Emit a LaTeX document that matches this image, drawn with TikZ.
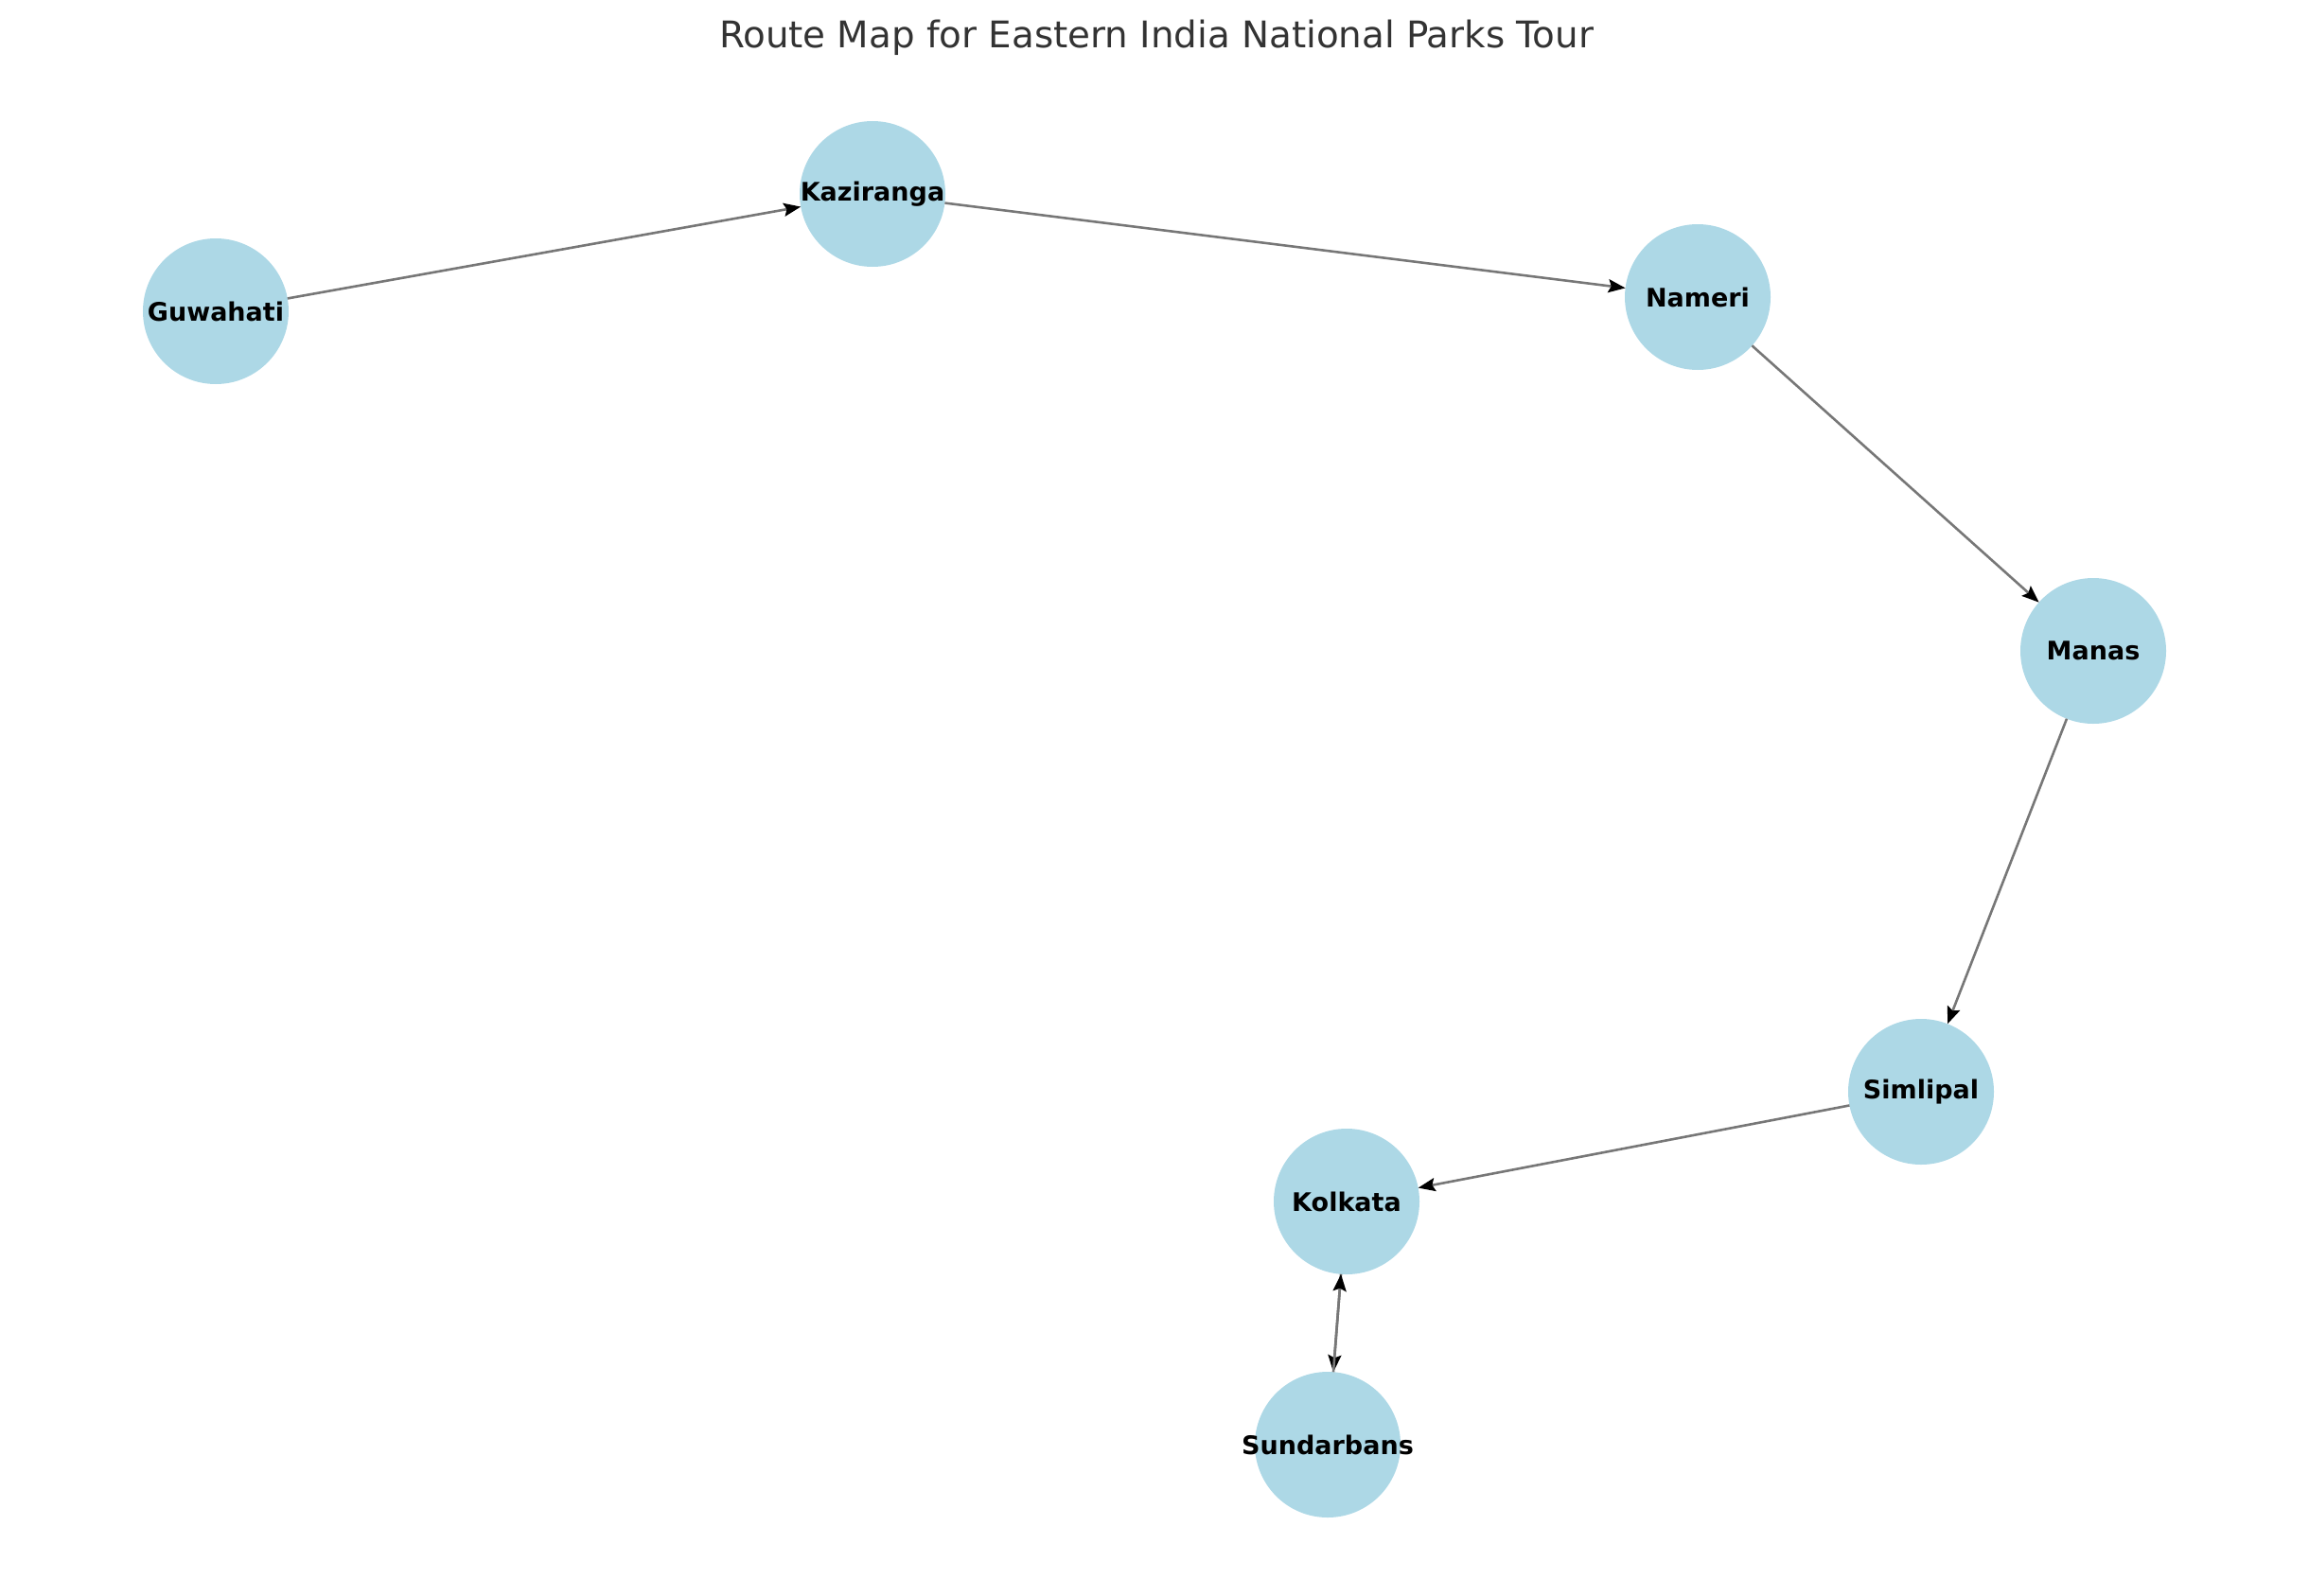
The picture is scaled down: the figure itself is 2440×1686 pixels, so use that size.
\documentclass[tikz,border=0pt]{standalone}
\usepackage{fontspec}
\setmainfont{DejaVu Sans}
\usepackage{tikz}
\usetikzlibrary{arrows.meta}
\definecolor{parkblue}{HTML}{ADD8E6}
\definecolor{routegray}{HTML}{777777}
\definecolor{titlegray}{HTML}{333333}
% park names may stick out of their circles
\newcommand{\parkname}[1]{\makebox[0pt]{#1}}

\begin{document}
\begin{tikzpicture}[x=0.5pt, y=-0.5pt,
    park/.style={circle, fill=parkblue, minimum size=77pt, inner sep=0pt, outer sep=0pt,
                 font=\fontsize{13.5}{16}\selectfont\bfseries},
    route/.style={draw=routegray, line width=1.3pt,
                  -{Stealth[length=9pt, width=7pt, inset=1.5pt, color=black]}}]
            % page frame
            \useasboundingbox (0, 0) rectangle (2440, 1686);
            % title
            \node (title) at (1222, 51) [anchor=base, text=titlegray, font=\fontsize{19.4}{24}\selectfont]
                {Route Map for Eastern India National Parks Tour};
            % the parks
            \node (guwahati) at (228, 329) [park] {\parkname{Guwahati}};
            \node (kaziranga) at (922, 205) [park] {\parkname{Kaziranga}};
            \node (nameri) at (1794, 314) [park] {\parkname{Nameri}};
            \node (manas) at (2212, 688) [park] {\parkname{Manas}};
            \node (simlipal) at (2030, 1154) [park] {\parkname{Simlipal}};
            \node (kolkata) at (1423, 1270) [park] {\parkname{Kolkata}};
            \node (sundarbans) at (1403, 1527) [park] {\parkname{Sundarbans}};
            % the route
            \draw [route] (guwahati) -- (kaziranga);
            \draw [route] (kaziranga) -- (nameri);
            \draw [route] (nameri) -- (manas);
            \draw [route] (manas) -- (simlipal);
            \draw [route] (simlipal) -- (kolkata);
            \draw [route] (kolkata) -- (sundarbans);
            \draw [route] (sundarbans) -- (kolkata);
        \end{tikzpicture}
\end{document}
